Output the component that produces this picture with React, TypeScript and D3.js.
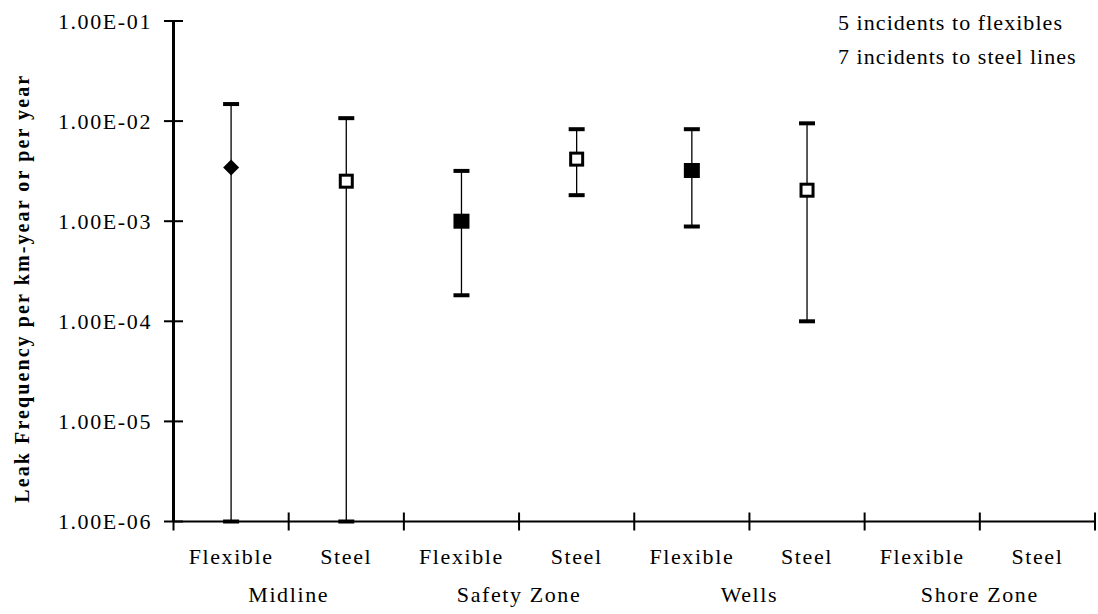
import React from "react";
import * as d3 from "d3";

// Pipeline categories along the x axis, grouped by zone
const categories = [
  "Flexible", "Steel", "Flexible", "Steel",
  "Flexible", "Steel", "Flexible", "Steel",
];
const zones = ["Midline", "Safety Zone", "Wells", "Shore Zone"];

// Leak frequency estimates with lower / upper bounds (null = no data)
const estimate = [0.00344, 0.00251, 0.001, 0.00417, 0.00321, 0.00204, null, null];
const lower = [1e-6, 1e-6, 0.000182, 0.00182, 0.000885, 0.0001, null, null];
const upper = [0.0148, 0.0107, 0.00318, 0.0083, 0.0083, 0.0095, null, null];
const markerKinds = [
  "diamond", "openSquare", "filledSquare", "openSquare",
  "filledSquare", "openSquare", null, null,
];

const yTicks = [1e-1, 1e-2, 1e-3, 1e-4, 1e-5, 1e-6];
const yTickLabels = ["1.00E-01", "1.00E-02", "1.00E-03", "1.00E-04", "1.00E-05", "1.00E-06"];
const notes = ["5 incidents to flexibles", "7 incidents to steel lines"];
const yTitle = "Leak Frequency per km-year or per year";

const W = 1098;
const H = 614;
const left = 173.5;
const right = 1095;
const top = 21;
const bottom = 521.5;

const FONT = "Liberation Serif, Times New Roman, Tinos, Times, serif";

export default function App() {
  const y = d3.scaleLog().domain([1e-6, 1e-1]).range([bottom, top]);
  const x = d3
    .scaleBand<number>()
    .domain(categories.map((_, i) => i))
    .range([left, right])
    .padding(0);
  const bw = x.bandwidth();
  const cx = (i: number) => (x(i) as number) + bw / 2;
  const tickXs = categories.map((_, i) => x(i) as number).concat([right]);

  const capW = 16;
  const textStyle = { fontFamily: FONT } as React.CSSProperties;

  return (
    <div style={{ position: "absolute", left: 0, top: 0 }}>
      <svg width={W} height={H} style={{ display: "block", background: "#fff" }}>
        {/* y axis */}
        <line x1={left} x2={left} y1={top} y2={bottom} stroke="#000" strokeWidth={3} />
        {yTicks.map((t, i) => (
          <g key={"yt" + i}>
            <line x1={left - 9.5} x2={left + 9.5} y1={y(t)} y2={y(t)} stroke="#000" strokeWidth={2} />
            <text
              x={152}
              y={y(t)}
              dy="0.35em"
              textAnchor="end"
              style={textStyle}
              fontSize={22}
              letterSpacing={1.6}
              fill="#000"
            >
              {yTickLabels[i]}
            </text>
          </g>
        ))}

        {/* x axis */}
        <line x1={left} x2={right} y1={bottom} y2={bottom} stroke="#000" strokeWidth={2} />
        {tickXs.map((tx, i) => (
          <line key={"xt" + i} x1={tx} x2={tx} y1={bottom - 9} y2={bottom + 9} stroke="#000" strokeWidth={2} />
        ))}
        {categories.map((c, i) => (
          <text
            key={"cat" + i}
            x={cx(i)}
            y={563.5}
            textAnchor="middle"
            style={textStyle}
            fontSize={22}
            letterSpacing={1.6}
            fill="#000"
          >
            {c}
          </text>
        ))}
        {zones.map((z, i) => (
          <text
            key={"zone" + i}
            x={x(i * 2 + 1) as number}
            y={601.5}
            textAnchor="middle"
            style={textStyle}
            fontSize={22}
            letterSpacing={1.6}
            fill="#000"
          >
            {z}
          </text>
        ))}

        {/* y axis title */}
        <text
          transform={`translate(29, ${(top + bottom) / 2 + 17}) rotate(-90)`}
          textAnchor="middle"
          style={textStyle}
          fontSize={20}
          fontWeight="bold"
          letterSpacing={2.1}
          fill="#000"
        >
          {yTitle}
        </text>

        {/* error bars and markers */}
        {categories.map((_, i) => {
          const v = estimate[i];
          const lo = lower[i];
          const hi = upper[i];
          const kind = markerKinds[i];
          if (v == null || lo == null || hi == null) return null;
          const px = cx(i);
          const py = y(v);
          let marker: React.ReactNode = null;
          if (kind === "diamond") {
            const r = 8;
            marker = (
              <path d={`M${px},${py - r}L${px + r},${py}L${px},${py + r}L${px - r},${py}Z`} fill="#000" />
            );
          } else if (kind === "filledSquare") {
            marker = <rect x={px - 8} y={py - 7.5} width={16} height={15} fill="#000" />;
          } else if (kind === "openSquare") {
            marker = (
              <rect x={px - 6} y={py - 6} width={12} height={12} fill="#fff" stroke="#000" strokeWidth={3} />
            );
          }
          return (
            <g key={"eb" + i}>
              <line x1={px} x2={px} y1={y(lo)} y2={y(hi)} stroke="#000" strokeWidth={1.3} />
              <line x1={px - capW / 2} x2={px + capW / 2} y1={y(lo)} y2={y(lo)} stroke="#000" strokeWidth={4} />
              <line x1={px - capW / 2} x2={px + capW / 2} y1={y(hi)} y2={y(hi)} stroke="#000" strokeWidth={4} />
              {marker}
            </g>
          );
        })}

        {/* annotation */}
        {notes.map((n, i) => (
          <text
            key={"note" + i}
            x={838}
            y={29.5 + i * 34}
            style={textStyle}
            fontSize={22}
            letterSpacing={1.05}
            fill="#000"
          >
            {n}
          </text>
        ))}
      </svg>
    </div>
  );
}
